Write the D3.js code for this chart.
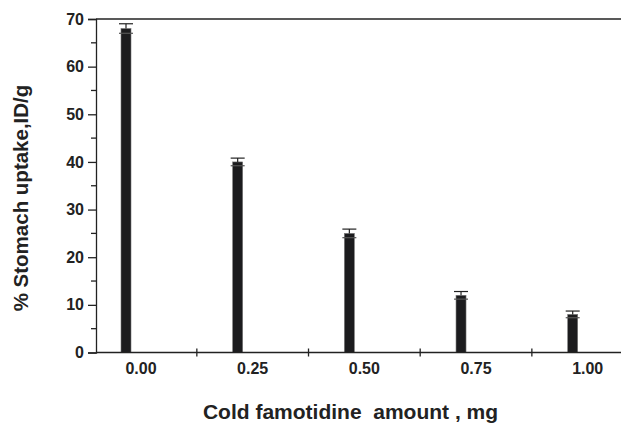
<!DOCTYPE html>
<html>
<head>
<meta charset="utf-8">
<script src="https://cdn.jsdelivr.net/npm/d3@7"></script>
<style>
  body { margin: 0; background: #fff; }
  text { font-family: "Liberation Sans", Arial, sans-serif; font-weight: bold; fill: #222; }
</style>
</head>
<body>
<div id="chart"></div>
<script>
// data
const amounts = [0.00, 0.25, 0.50, 0.75, 1.00];
const amountLabels = ['0.00', '0.25', '0.50', '0.75', '1.00'];
const uptake = [68, 40, 25, 12, 8];
const uptakeErr = [1, 0.8, 0.9, 0.8, 0.7];
const yTicks = [0, 10, 20, 30, 40, 50, 60, 70];
const yMinorTicks = [5, 15, 25, 35, 45, 55, 65];
const xBoundaries = [0.125, 0.375, 0.625, 0.875];

// constants
const FRAME_WIDTH = 621;
const FRAME_HEIGHT = 424;
const MARGINS = {left: 96, top: 19, bottom: 71.5};
const BAR_W = 10;
const BAR_OFFSET = -15;
const CAP_W = 14;
const INK = '#222';

const SVG = d3.select('#chart')
  .append('svg')
  .attr('width', FRAME_WIDTH)
  .attr('height', FRAME_HEIGHT);

const xScale = d3.scaleLinear()
  .domain([0, 1])
  .range([141, 587.7]);

const yScale = d3.scaleLinear()
  .domain([0, 70])
  .range([FRAME_HEIGHT - MARGINS.bottom, MARGINS.top]);

const y0 = yScale(0);

// bars
SVG.selectAll('rect.bar')
  .data(amounts)
  .enter()
  .append('rect')
  .attr('class', 'bar')
  .attr('x', (d) => xScale(d) + BAR_OFFSET - BAR_W / 2)
  .attr('y', (d, i) => yScale(uptake[i]))
  .attr('width', BAR_W)
  .attr('height', (d, i) => y0 - yScale(uptake[i]))
  .attr('fill', '#1c1c1e')
  .attr('stroke', '#777')
  .attr('stroke-width', 0.6);

// error bars
const errG = SVG.append('g')
  .attr('stroke', INK)
  .attr('stroke-width', 1.2);
amounts.forEach((d, i) => {
  const cx = xScale(d) + BAR_OFFSET;
  const hi = yScale(uptake[i] + uptakeErr[i]);
  const lo = yScale(uptake[i] - uptakeErr[i]);
  errG.append('line').attr('x1', cx).attr('x2', cx).attr('y1', hi).attr('y2', yScale(uptake[i]));
  errG.append('line').attr('x1', cx - CAP_W / 2).attr('x2', cx + CAP_W / 2).attr('y1', hi).attr('y2', hi);
  errG.append('line').attr('x1', cx - CAP_W / 2).attr('x2', cx + CAP_W / 2).attr('y1', lo).attr('y2', lo)
    .attr('stroke', '#555');
});

// y axis
const yAxis = SVG.append('g')
  .attr('transform', 'translate(' + MARGINS.left + ',0)')
  .call(d3.axisLeft(yScale).tickValues(yTicks).tickSize(8).tickPadding(4).tickFormat(d3.format('d')));
yAxis.attr('font-size', null).attr('font-family', null);
yAxis.selectAll('text').attr('font-size', '16px').attr('fill', INK);
yAxis.selectAll('line, path').attr('stroke', INK).attr('stroke-width', 1.3);

SVG.append('g')
  .attr('transform', 'translate(' + MARGINS.left + ',0)')
  .selectAll('line')
  .data(yMinorTicks)
  .enter()
  .append('line')
  .attr('x1', -5).attr('x2', 0)
  .attr('y1', (d) => yScale(d)).attr('y2', (d) => yScale(d))
  .attr('stroke', INK).attr('stroke-width', 1.3);

// x axis line and ticks
SVG.append('line')
  .attr('x1', MARGINS.left).attr('x2', FRAME_WIDTH)
  .attr('y1', y0).attr('y2', y0)
  .attr('stroke', INK).attr('stroke-width', 1.3);

SVG.selectAll('line.xtick')
  .data(xBoundaries)
  .enter()
  .append('line')
  .attr('class', 'xtick')
  .attr('x1', (d) => xScale(d)).attr('x2', (d) => xScale(d))
  .attr('y1', y0 - 4).attr('y2', y0 + 4)
  .attr('stroke', INK).attr('stroke-width', 1.3);

SVG.selectAll('text.xlab')
  .data(amounts)
  .enter()
  .append('text')
  .attr('class', 'xlab')
  .attr('x', (d) => xScale(d))
  .attr('y', y0 + 21)
  .attr('text-anchor', 'middle')
  .attr('font-size', '16px')
  .text((d, i) => amountLabels[i]);

// top frame line
SVG.append('line')
  .attr('x1', MARGINS.left).attr('x2', FRAME_WIDTH)
  .attr('y1', MARGINS.top).attr('y2', MARGINS.top)
  .attr('stroke', INK).attr('stroke-width', 1.3);

// axis titles
SVG.append('text')
  .attr('x', 350.5)
  .attr('y', 419)
  .attr('text-anchor', 'middle')
  .attr('font-size', '21px')
  .style('white-space', 'pre')
  .text('Cold famotidine  amount , mg');

SVG.append('text')
  .attr('transform', 'translate(28,198) rotate(-90)')
  .attr('text-anchor', 'middle')
  .attr('font-size', '20.5px')
  .text('% Stomach uptake,ID/g');
</script>
</body>
</html>
